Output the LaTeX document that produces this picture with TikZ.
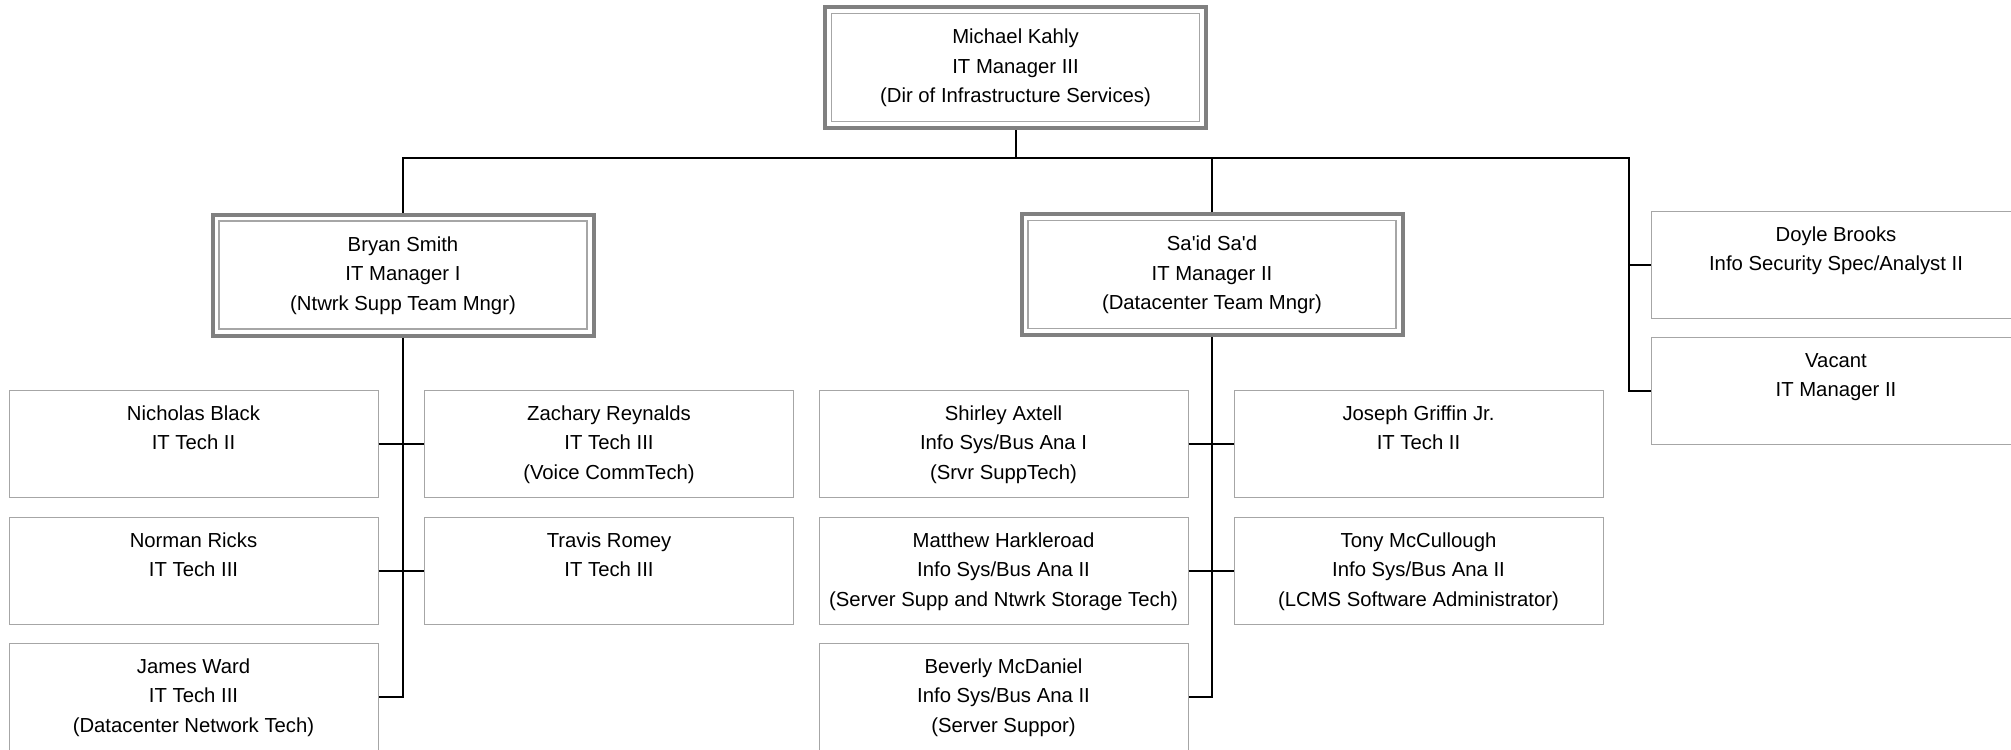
\documentclass[tikz,border=0pt]{standalone}
\usepackage{fontspec}
\setmainfont{Liberation Sans}[Ligatures=TeXOff]
\definecolor{mgrgray}{HTML}{808080}
\definecolor{boxgray}{HTML}{A6A6A6}
\newcommand{\orgtext}[3]{\strut#1\\\strut#2\\\strut#3}

\begin{document}
\begin{tikzpicture}[x=0.5pt,y=-0.5pt,
  font=\fontsize{10.15pt}{14.75pt}\selectfont,
  staff/.style={draw=boxgray,line width=0.5pt,fill=white,align=center,
    minimum width=184.5pt,minimum height=53.5pt,inner sep=0pt},
  mgr/.style={draw=mgrgray,line width=2pt,fill=white,align=center,
    minimum width=190.5pt,minimum height=60.5pt,inner sep=0pt,
    path picture={\draw[boxgray,line width=0.75pt]
      ([shift={(3.25pt,-3.25pt)}]path picture bounding box.north west) rectangle
      ([shift={(-3.25pt,3.25pt)}]path picture bounding box.south east);}},
  link/.style={draw=black,line width=1pt}]
  \useasboundingbox (0,0) rectangle (2011,749);

  \node[mgr] (kahly) at (1015.5,67.5) {\orgtext{Michael Kahly}{IT Manager III}{(Dir of Infrastructure Services)}};
  \node[mgr] (bsmith) at (403,275) {\orgtext{Bryan Smith}{IT Manager I}{(Ntwrk Supp Team Mngr)}};
  \node[mgr] (ssad) at (1212,274.5) {\orgtext{Sa'id Sa'd}{IT Manager II}{(Datacenter Team Mngr)}};
  \node[staff] (dbrooks) at (1836,265) {\orgtext{Doyle Brooks}{Info Security Spec/Analyst II}{}};
  \node[staff] (vacant) at (1836,391) {\orgtext{Vacant}{IT Manager II}{}};

  \node[staff] (nblack) at (193.5,444) {\orgtext{Nicholas Black}{IT Tech II}{}};
  \node[staff] (zreynalds) at (609,444) {\orgtext{Zachary Reynalds}{IT Tech III}{(Voice CommTech)}};
  \node[staff] (nricks) at (193.5,571) {\orgtext{Norman Ricks}{IT Tech III}{}};
  \node[staff] (tromey) at (609,571) {\orgtext{Travis Romey}{IT Tech III}{}};
  \node[staff] (jward) at (193.5,697) {\orgtext{James Ward}{IT Tech III}{(Datacenter Network Tech)}};

  \node[staff] (saxtell) at (1003.5,444) {\orgtext{Shirley Axtell}{Info Sys/Bus Ana I}{(Srvr SuppTech)}};
  \node[staff] (jgriffin) at (1418.5,444) {\orgtext{Joseph Griffin Jr.}{IT Tech II}{}};
  \node[staff] (mharkleroad) at (1003.5,571) {\orgtext{Matthew Harkleroad}{Info Sys/Bus Ana II}{(Server Supp and Ntwrk Storage Tech)}};
  \node[staff] (tmccullough) at (1418.5,571) {\orgtext{Tony McCullough}{Info Sys/Bus Ana II}{(LCMS Software Administrator)}};
  \node[staff] (bmcdaniel) at (1003.5,697) {\orgtext{Beverly McDaniel}{Info Sys/Bus Ana II}{(Server Suppor)}};

  \coordinate (bus) at (1015.5,158);
  \coordinate (sidebus) at (1629,158);
  \draw[link] (kahly.south) -- (bus);
  \draw[link] (bsmith.north) |- (sidebus) |- (vacant.west);
  \draw[link] (ssad.north) -- (ssad.north |- bus);
  \draw[link] (sidebus |- dbrooks.west) -- (dbrooks.west);

  \draw[link] (bsmith.south) |- (jward.east);
  \draw[link] (nblack.east) -- (zreynalds.west);
  \draw[link] (nricks.east) -- (tromey.west);

  \draw[link] (ssad.south) |- (bmcdaniel.east);
  \draw[link] (saxtell.east) -- (jgriffin.west);
  \draw[link] (mharkleroad.east) -- (tmccullough.west);
\end{tikzpicture}
\end{document}
